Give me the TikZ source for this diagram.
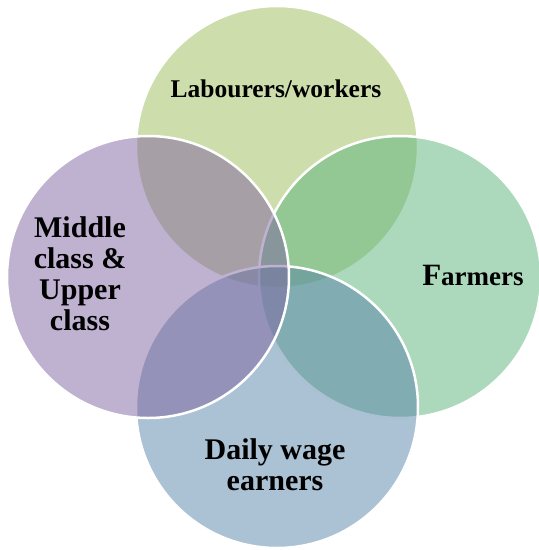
\documentclass[tikz,border=0pt]{standalone}
\usepackage{fontspec}
\setmainfont{Liberation Serif}
\definecolor{cTop}{HTML}{9BBB59}
\definecolor{cRight}{HTML}{5AB27A}
\definecolor{cBottom}{HTML}{5783A9}
\definecolor{cLeft}{HTML}{8064A2}
\usetikzlibrary{positioning}

\begin{document}
\begin{tikzpicture}[x=1pt,y=-1pt,
      venn/.style={circle,minimum size=282pt,inner sep=0pt,
        fill opacity=.5,draw=white,line width=2.5pt},
      tag/.style={font=\bfseries\fontsize{30}{31}\selectfont,
        align=center,inner sep=0pt,anchor=base}]
    \useasboundingbox (0,0) rectangle (539,550);
    % the four groups, later circles lie over earlier ones
    \node[venn,fill=cTop]    (top)    at (277,147) {};
    \node[venn,fill=cRight]  (right)  at (400,277) {};
    \node[venn,fill=cBottom] (bottom) at (277,407) {};
    \node[venn,fill=cLeft]   (left)   at (148,277) {};
    % labels (base = last line)
    \node[tag,font=\bfseries\fontsize{25.5}{27}\selectfont] (lbl-top) at (276,97) {Labourers/workers};
    \node[tag] (lbl-right) at (473,285)
      {{\fontsize{31}{31}\selectfont F}{\fontsize{27}{27}\selectfont armers}};
    \node[tag] (lbl-bottom) at (275,490) {Daily wage\\earners};
    \node[tag] (lbl-left) at (80,330) {Middle\\class \&\\Upper\\class};
  \end{tikzpicture}
\end{document}
